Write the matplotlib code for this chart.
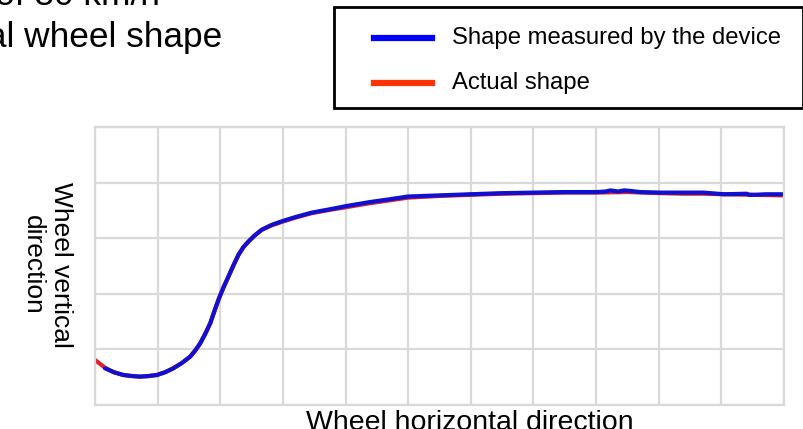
import matplotlib
matplotlib.use("Agg")
import matplotlib.pyplot as plt
from matplotlib.patches import Rectangle
from matplotlib.lines import Line2D
import numpy as np

plt.rcParams['font.family'] = ['Liberation Sans', 'DejaVu Sans']

# Data (grid units)
measured_x = [0.16, 0.30, 0.45, 0.60, 0.72, 0.85, 0.99, 1.12, 1.25, 1.38, 1.52, 1.60, 1.68, 1.76,
              1.84, 1.91, 1.98, 2.05, 2.13, 2.21, 2.29, 2.37, 2.45, 2.55, 2.66, 2.82, 3.00, 3.20,
              3.46, 3.75, 4.02, 4.39, 4.70, 5.00, 5.50, 5.99, 6.50, 7.00, 7.50, 8.01, 8.15, 8.23,
              8.35, 8.45, 8.55, 8.70, 9.03, 9.40, 9.72, 10.04, 10.40, 10.45, 10.55, 10.70, 11.00]
measured_y = [0.66, 0.59, 0.54, 0.52, 0.51, 0.52, 0.54, 0.59, 0.66, 0.75, 0.87, 0.98, 1.11, 1.28,
              1.47, 1.70, 1.92, 2.11, 2.31, 2.51, 2.70, 2.84, 2.94, 3.05, 3.15, 3.24, 3.31, 3.38,
              3.46, 3.52, 3.58, 3.65, 3.70, 3.75, 3.77, 3.79, 3.81, 3.82, 3.83, 3.83, 3.84, 3.86,
              3.84, 3.86, 3.85, 3.83, 3.82, 3.82, 3.82, 3.79, 3.80, 3.78, 3.78, 3.79, 3.79]
actual_x = [0.00, 0.08, 0.16, 0.30, 0.45, 0.60, 0.72, 0.85, 0.99, 1.12, 1.25, 1.38, 1.52, 1.60,
            1.68, 1.76, 1.84, 1.91, 1.98, 2.05, 2.13, 2.21, 2.29, 2.37, 2.45, 2.55, 2.66, 2.82,
            3.00, 3.20, 3.46, 3.75, 4.02, 4.39, 4.70, 5.00, 5.50, 5.99, 6.50, 7.00, 7.50, 8.01,
            8.50, 9.03, 9.40, 9.72, 10.04, 10.50, 11.00]
actual_y = [0.81, 0.74, 0.67, 0.59, 0.54, 0.52, 0.51, 0.52, 0.54, 0.59, 0.66, 0.75, 0.87, 0.98,
            1.11, 1.28, 1.47, 1.70, 1.92, 2.11, 2.31, 2.51, 2.70, 2.84, 2.94, 3.05, 3.15, 3.23,
            3.30, 3.37, 3.45, 3.51, 3.56, 3.63, 3.68, 3.73, 3.76, 3.78, 3.80, 3.81, 3.82, 3.82,
            3.83, 3.81, 3.80, 3.80, 3.79, 3.78, 3.77]

W, H = 804, 429
fig = plt.figure(figsize=(W / 100, H / 100), dpi=100)

left, right, top, bottom = 95, 784, 127, 405
ax = fig.add_axes([left / W, 1 - bottom / H, (right - left) / W, (bottom - top) / H])
ax.set_xlim(0, 11)
ax.set_ylim(0, 5)
ax.set_xticks(np.arange(0, 12, 1))
ax.set_yticks(np.arange(0, 6, 1))
ax.tick_params(length=0, labelbottom=False, labelleft=False)
ax.grid(True, color='#d9d9d9', linewidth=1.6)
for s in ax.spines.values():
    s.set_color('#d9d9d9')
    s.set_linewidth(1.6)
ax.set_axisbelow(True)

ax.plot(actual_x, actual_y, color='#e0202c', linewidth=3.0, solid_capstyle='round',
        solid_joinstyle='round')
ax.plot(measured_x, measured_y, color='#1010d0', linewidth=3.0, solid_capstyle='round',
        solid_joinstyle='round')

def fx(px):
    return px / W

def fy(py):
    return 1 - py / H

# Axis labels
fig.text(fx(470), fy(410), 'Wheel horizontal direction', ha='center', va='top', fontsize=20.5)
fig.text(fx(47), fy(265), 'Wheel vertical\ndirection', ha='center', va='center',
         rotation=270, fontsize=19, multialignment='center', linespacing=1.2)

# Title (partially cut off at the top-left corner, as in the source)
fig.text(fx(160), fy(5), 'Wheel shape measured at a running speed of 80 km/h',
         ha='right', va='baseline', fontsize=25.4)
fig.text(fx(222), fy(47), 'Comparison of the measured and the actual wheel shape',
         ha='right', va='baseline', fontsize=25.4)

# Legend box
fig.add_artist(Rectangle((fx(334), fy(108)), (803 - 334) / W, (108 - 7) / H,
                         transform=fig.transFigure, facecolor='white', edgecolor='black', linewidth=2))
fig.add_artist(Line2D([fx(374), fx(432)], [fy(38), fy(38)], color='#0000ff', linewidth=4.5,
                      transform=fig.transFigure))
fig.add_artist(Line2D([fx(374), fx(432)], [fy(83), fy(83)], color='#ff3300', linewidth=4.5,
                      transform=fig.transFigure))
fig.text(fx(452), fy(38), 'Shape measured by the device', ha='left', va='center', fontsize=17.2)
fig.text(fx(452), fy(83), 'Actual shape', ha='left', va='center', fontsize=17.2)

fig.savefig('out.png', dpi=100)
